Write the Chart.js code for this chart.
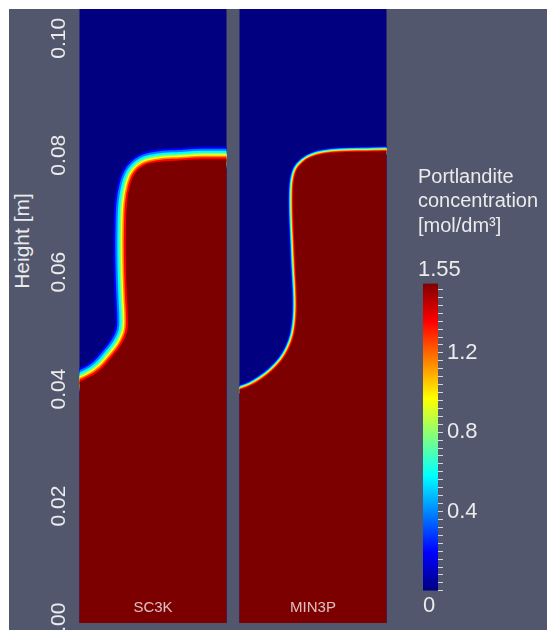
<!DOCTYPE html>
<html>
<head>
<meta charset="utf-8">
<script src="https://cdn.jsdelivr.net/npm/chart.js@4.4.1/dist/chart.umd.min.js"></script>
<style>
  html, body { margin: 0; padding: 0; background: #ffffff; width: 547px; height: 630px; overflow: hidden; }
  #bg { position: absolute; left: 9px; top: 9px; width: 538px; height: 621px; background: #52576e; }
  canvas { position: absolute; }
  #ytitle { position: absolute; left: -38px; top: 229px; width: 120px; height: 24px; line-height: 24px;
            text-align: center; white-space: nowrap; color: #ebebeb;
            font: 21px "Liberation Sans", Arial, sans-serif; transform: rotate(-90deg); }
</style>
</head>
<body>
<div id="bg"></div>
<div id="ytitle"></div>
<canvas id="cA" width="230" height="630" style="left:0px;top:0px;width:230px;height:630px"></canvas>
<canvas id="cB" width="170" height="630" style="left:230px;top:0px;width:170px;height:630px"></canvas>
<canvas id="cC" width="137" height="480" style="left:410px;top:150px;width:137px;height:480px"></canvas>
<script>
// ---------------- data ----------------
const Y_TITLE = 'Height [m]';
const Y_TICKS = [0.00, 0.02, 0.04, 0.06, 0.08, 0.10];
const Y_RANGE = [0, 0.105];
const X_RANGE = [0, 1];
const PANEL_LABELS = ['SC3K', 'MIN3P'];

// reaction front (inner edge of the transition band), x normalised across panel, y in m
const SC3K_FRONT_X = [-0.05, 0.071, 0.146, 0.221, 0.282, 0.323, 0.329, 0.323, 0.316, 0.316, 0.323, 0.343, 0.377, 0.438, 0.527, 0.683, 0.839, 1.05];
const SC3K_FRONT_Y = [0.0410, 0.0421, 0.0434, 0.0455, 0.0475, 0.0498, 0.0523, 0.0557, 0.0616, 0.0672, 0.0717, 0.0747, 0.0768, 0.0782, 0.0788, 0.0791, 0.0793, 0.0793];

const MIN3P_FRONT_X = [-0.05, 0.017, 0.078, 0.146, 0.218, 0.289, 0.337, 0.371, 0.388, 0.390, 0.381, 0.372, 0.365, 0.365, 0.372, 0.393, 0.435, 0.486, 0.570, 0.684, 0.842, 1.05];
const MIN3P_FRONT_Y = [0.0396, 0.0400, 0.0406, 0.0416, 0.0430, 0.0449, 0.0469, 0.0493, 0.0524, 0.0558, 0.0604, 0.0655, 0.0701, 0.0740, 0.0759, 0.0776, 0.0788, 0.0796, 0.0802, 0.0805, 0.0806, 0.0807];

const COLORBAR_TITLE = ['Portlandite', 'concentration', '[mol/dm³]'];
const COLORBAR_RANGE = [0, 1.55];
const COLORBAR_LABELS = [0.4, 0.8, 1.2];
const COLORBAR_STEP = 0.04;

// ---------------- styles ----------------
const NAVY = '#000080';
const DARK_RED = '#7c0000';
const TEXT = '#ebebeb';
const RING_COLORS = ['#0000ff', '#0080ff', '#00ffff', '#80ff80', '#ffff00', '#ff8000', '#ff0000']; // outer -> inner
const RING_WIDTHS_SC3K = [2, 2, 2, 1.5, 1.5, 1.5, 2];
const RING_WIDTHS_MIN3P = [0.9, 0.6, 0.7, 0.5, 0.6, 0.7, 1.0];
const JET = [[0, '#000080'], [0.125, '#0000ff'], [0.375, '#00ffff'], [0.625, '#ffff00'], [0.875, '#ff0000'], [1, '#800000']];

Chart.defaults.font.family = '"Liberation Sans", Arial, Helvetica, sans-serif';
Chart.defaults.color = TEXT;

document.getElementById('ytitle').textContent = Y_TITLE;

const areaBg = {
  id: 'areaBg',
  beforeDatasetsDraw(chart, args, opts) {
    if (!opts || !opts.color) return;
    const {ctx, chartArea: a} = chart;
    ctx.save();
    ctx.fillStyle = opts.color;
    ctx.fillRect(a.left, a.top, a.right - a.left, a.bottom - a.top);
    ctx.restore();
  }
};

function panelChart(canvasId, label, xs, ys, ringWidths, showY, padL, padR) {
  const front = xs.map((x, i) => ({x: x, y: ys[i]}));
  const first = front[0], last = front[front.length - 1];
  const line = [{x: first.x - 1, y: first.y}].concat(front, [{x: last.x + 1, y: last.y}]);
  const shape = line.concat([{x: last.x + 1, y: Y_RANGE[0] - 0.02}, {x: first.x - 1, y: Y_RANGE[0] - 0.02}]);
  const datasets = [];
  RING_COLORS.forEach((c, i) => {
    const cum = ringWidths.slice(i).reduce((a, b) => a + b, 0);
    datasets.push({
      data: line.map(p => ({x: p.x, y: p.y})), showLine: true, fill: false,
      borderColor: c, borderWidth: 2 * cum, borderJoinStyle: 'round', borderCapStyle: 'butt',
      tension: 0.4, capBezierPoints: false, pointRadius: 0, pointHoverRadius: 0, clip: 0, order: 20 - i
    });
  });
  datasets.push({
    data: shape.map(p => ({x: p.x, y: p.y})), showLine: true, fill: 'shape',
    backgroundColor: DARK_RED, borderColor: 'rgba(0,0,0,0)', borderWidth: 0,
    tension: 0.4, capBezierPoints: false, pointRadius: 0, pointHoverRadius: 0, clip: 0, order: 1
  });

  return new Chart(document.getElementById(canvasId), {
    type: 'scatter',
    data: {datasets: datasets},
    plugins: [areaBg],
    options: {
      responsive: false, animation: false, devicePixelRatio: 1, events: [],
      layout: {padding: {left: padL, right: padR, top: 9, bottom: 0}},
      plugins: {legend: {display: false}, tooltip: {enabled: false}, areaBg: {color: NAVY}},
      scales: {
        x: {
          type: 'linear', min: X_RANGE[0], max: X_RANGE[1],
          ticks: {display: false}, grid: {display: false, drawTicks: false, z: 1}, border: {display: false},
          title: {display: true, text: label, color: 'rgba(255,255,255,0.75)', font: {size: 15}, padding: {top: 0, bottom: 13.6}},
          afterFit(s) { s.height = 7; s.paddingLeft = 0; s.paddingRight = 0; }
        },
        y: {
          type: 'linear', min: Y_RANGE[0], max: Y_RANGE[1], display: showY,
          afterBuildTicks(s) { s.ticks = Y_TICKS.map(v => ({value: v})); },
          ticks: {
            minRotation: 90, maxRotation: 90, crossAlign: 'center', padding: 0, autoSkip: false,
            font: {size: 21}, color: TEXT, callback: v => Number(v).toFixed(2)
          },
          grid: {display: false, drawTicks: false}, border: {display: false},
          afterFit(s) { s.width = showY ? 79.5 : 0; s.paddingTop = 0; s.paddingBottom = 0; }
        }
      }
    }
  });
}

panelChart('cA', PANEL_LABELS[0], SC3K_FRONT_X, SC3K_FRONT_Y, RING_WIDTHS_SC3K, true, 0, 3.5);
panelChart('cB', PANEL_LABELS[1], MIN3P_FRONT_X, MIN3P_FRONT_Y, RING_WIDTHS_MIN3P, false, 9.5, 13.5);

// ---------------- colour bar ----------------
new Chart(document.getElementById('cC'), {
  type: 'bar',
  data: {
    labels: [''],
    datasets: [{
      data: [COLORBAR_RANGE.slice()],
      yAxisID: 'y', borderWidth: 0, barPercentage: 1, categoryPercentage: 1,
      backgroundColor(ctx) {
        const chart = ctx.chart;
        if (!chart.chartArea) return 'rgba(0,0,0,0)';
        const ys = chart.scales.y;
        const g = chart.ctx.createLinearGradient(0, ys.getPixelForValue(COLORBAR_RANGE[0]), 0, ys.getPixelForValue(COLORBAR_RANGE[1]));
        JET.forEach(s => g.addColorStop(s[0], s[1]));
        return g;
      }
    }]
  },
  options: {
    responsive: false, animation: false, devicePixelRatio: 1, events: [],
    layout: {padding: {left: 8, right: 0, top: 0, bottom: 0}},
    plugins: {
      legend: {display: false}, tooltip: {enabled: false},
      title: {display: true, text: COLORBAR_TITLE, align: 'start', color: TEXT,
              font: {size: 20, weight: 'normal', lineHeight: 1.225}, padding: {top: 14.8, bottom: 0}},
      subtitle: {display: true, text: String(COLORBAR_RANGE[1]), align: 'start', color: TEXT,
                 font: {size: 22, weight: 'normal'}, padding: {top: 18.8, bottom: 0}}
    },
    scales: {
      x: {
        position: 'bottom', ticks: {display: false}, grid: {display: false, drawTicks: false}, border: {display: false},
        title: {display: true, text: String(COLORBAR_RANGE[0]), align: 'start', color: TEXT, font: {size: 22}, padding: {top: 2, bottom: 10.8}}
      },
      yL: {
        type: 'linear', position: 'left', ticks: {display: false}, grid: {display: false, drawTicks: false}, border: {display: false},
        afterFit(s) { s.width = 5; }
      },
      y: {
        type: 'linear', position: 'right', min: COLORBAR_RANGE[0], max: COLORBAR_RANGE[1],
        ticks: {
          stepSize: COLORBAR_STEP, includeBounds: false, autoSkip: false, padding: 4, color: TEXT, font: {size: 22},
          callback: v => COLORBAR_LABELS.some(l => Math.abs(l - v) < 1e-6) ? String(v) : ''
        },
        grid: {display: true, drawOnChartArea: false, drawTicks: true, tickLength: 5, color: '#d6d6d6', lineWidth: 1},
        border: {display: false},
        afterFit(s) { s.width = 109; }
      }
    }
  }
});
</script>
</body>
</html>
